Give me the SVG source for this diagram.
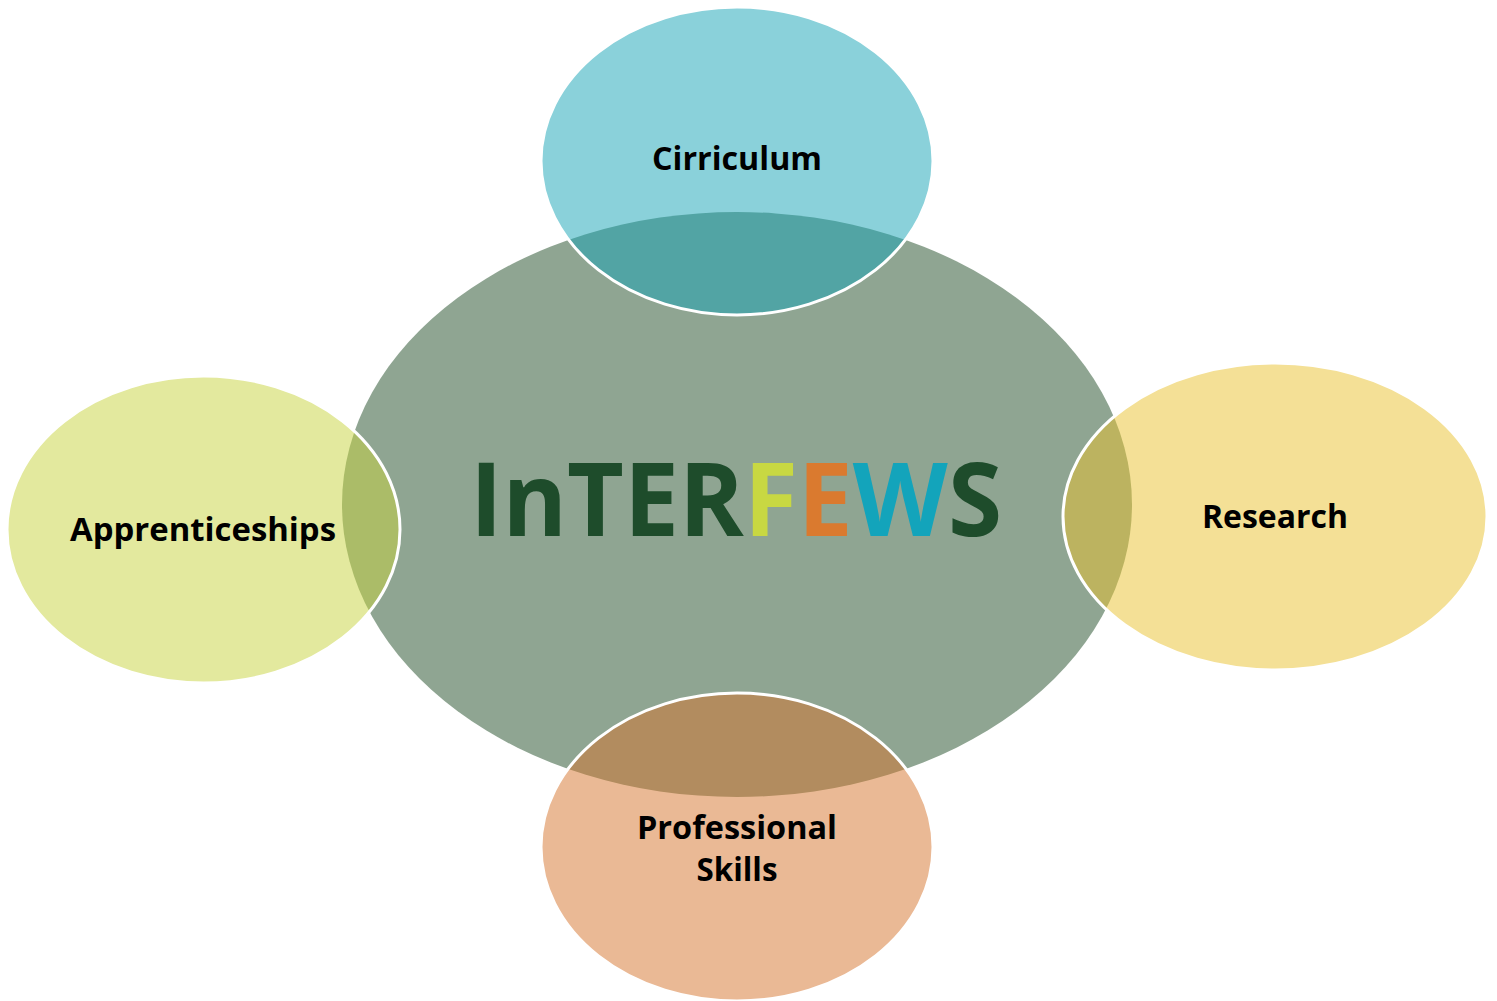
<svg xmlns="http://www.w3.org/2000/svg" width="1497" height="1001" viewBox="0 0 1497 1001">
  <style>
    .sat { stroke: #ffffff; stroke-width: 3; }
    .lbl { font-family: "Open Sans", "Liberation Sans", sans-serif; font-weight: bold; font-size: 32px; fill: #000000; text-anchor: middle; }
    .title { font-family: "Open Sans", "Liberation Sans", sans-serif; font-weight: bold; font-size: 102px; }
  </style>
  <rect width="1497" height="1001" fill="#ffffff"/>
  <g id="center">
    <ellipse cx="737" cy="504.5" rx="395" ry="292.5" fill="#8fa592"/>
    <text class="title" x="470" y="536" textLength="532" lengthAdjust="spacingAndGlyphs"><tspan fill="#1e4c2b">InTER</tspan><tspan fill="#c8d842">F</tspan><tspan fill="#da7a2f">E</tspan><tspan fill="#13a4bb">W</tspan><tspan fill="#1e4c2b">S</tspan></text>
  </g>
  <g id="cirriculum">
    <ellipse class="sat" cx="737" cy="161" rx="196" ry="154" fill="rgb(21,163,181)" fill-opacity="0.5"/>
    <text class="lbl" x="737" y="170" textLength="170" lengthAdjust="spacingAndGlyphs">Cirriculum</text>
  </g>
  <g id="apprenticeships">
    <ellipse class="sat" cx="203.5" cy="529.5" rx="196.5" ry="153.5" fill="rgb(199,211,61)" fill-opacity="0.5"/>
    <text class="lbl" x="203" y="541" textLength="266" lengthAdjust="spacingAndGlyphs">Apprenticeships</text>
  </g>
  <g id="research">
    <ellipse class="sat" cx="1275" cy="516.5" rx="212" ry="153.5" fill="rgb(233,193,45)" fill-opacity="0.5"/>
    <text class="lbl" x="1275" y="528" textLength="146" lengthAdjust="spacingAndGlyphs">Research</text>
  </g>
  <g id="professional-skills">
    <ellipse class="sat" cx="737" cy="847" rx="196" ry="154" fill="rgb(213,115,43)" fill-opacity="0.5"/>
    <text class="lbl" x="737" y="839" textLength="200" lengthAdjust="spacingAndGlyphs">Professional</text>
    <text class="lbl" x="737" y="881" textLength="81" lengthAdjust="spacingAndGlyphs">Skills</text>
  </g>
  <g id="connectors"></g>
</svg>
